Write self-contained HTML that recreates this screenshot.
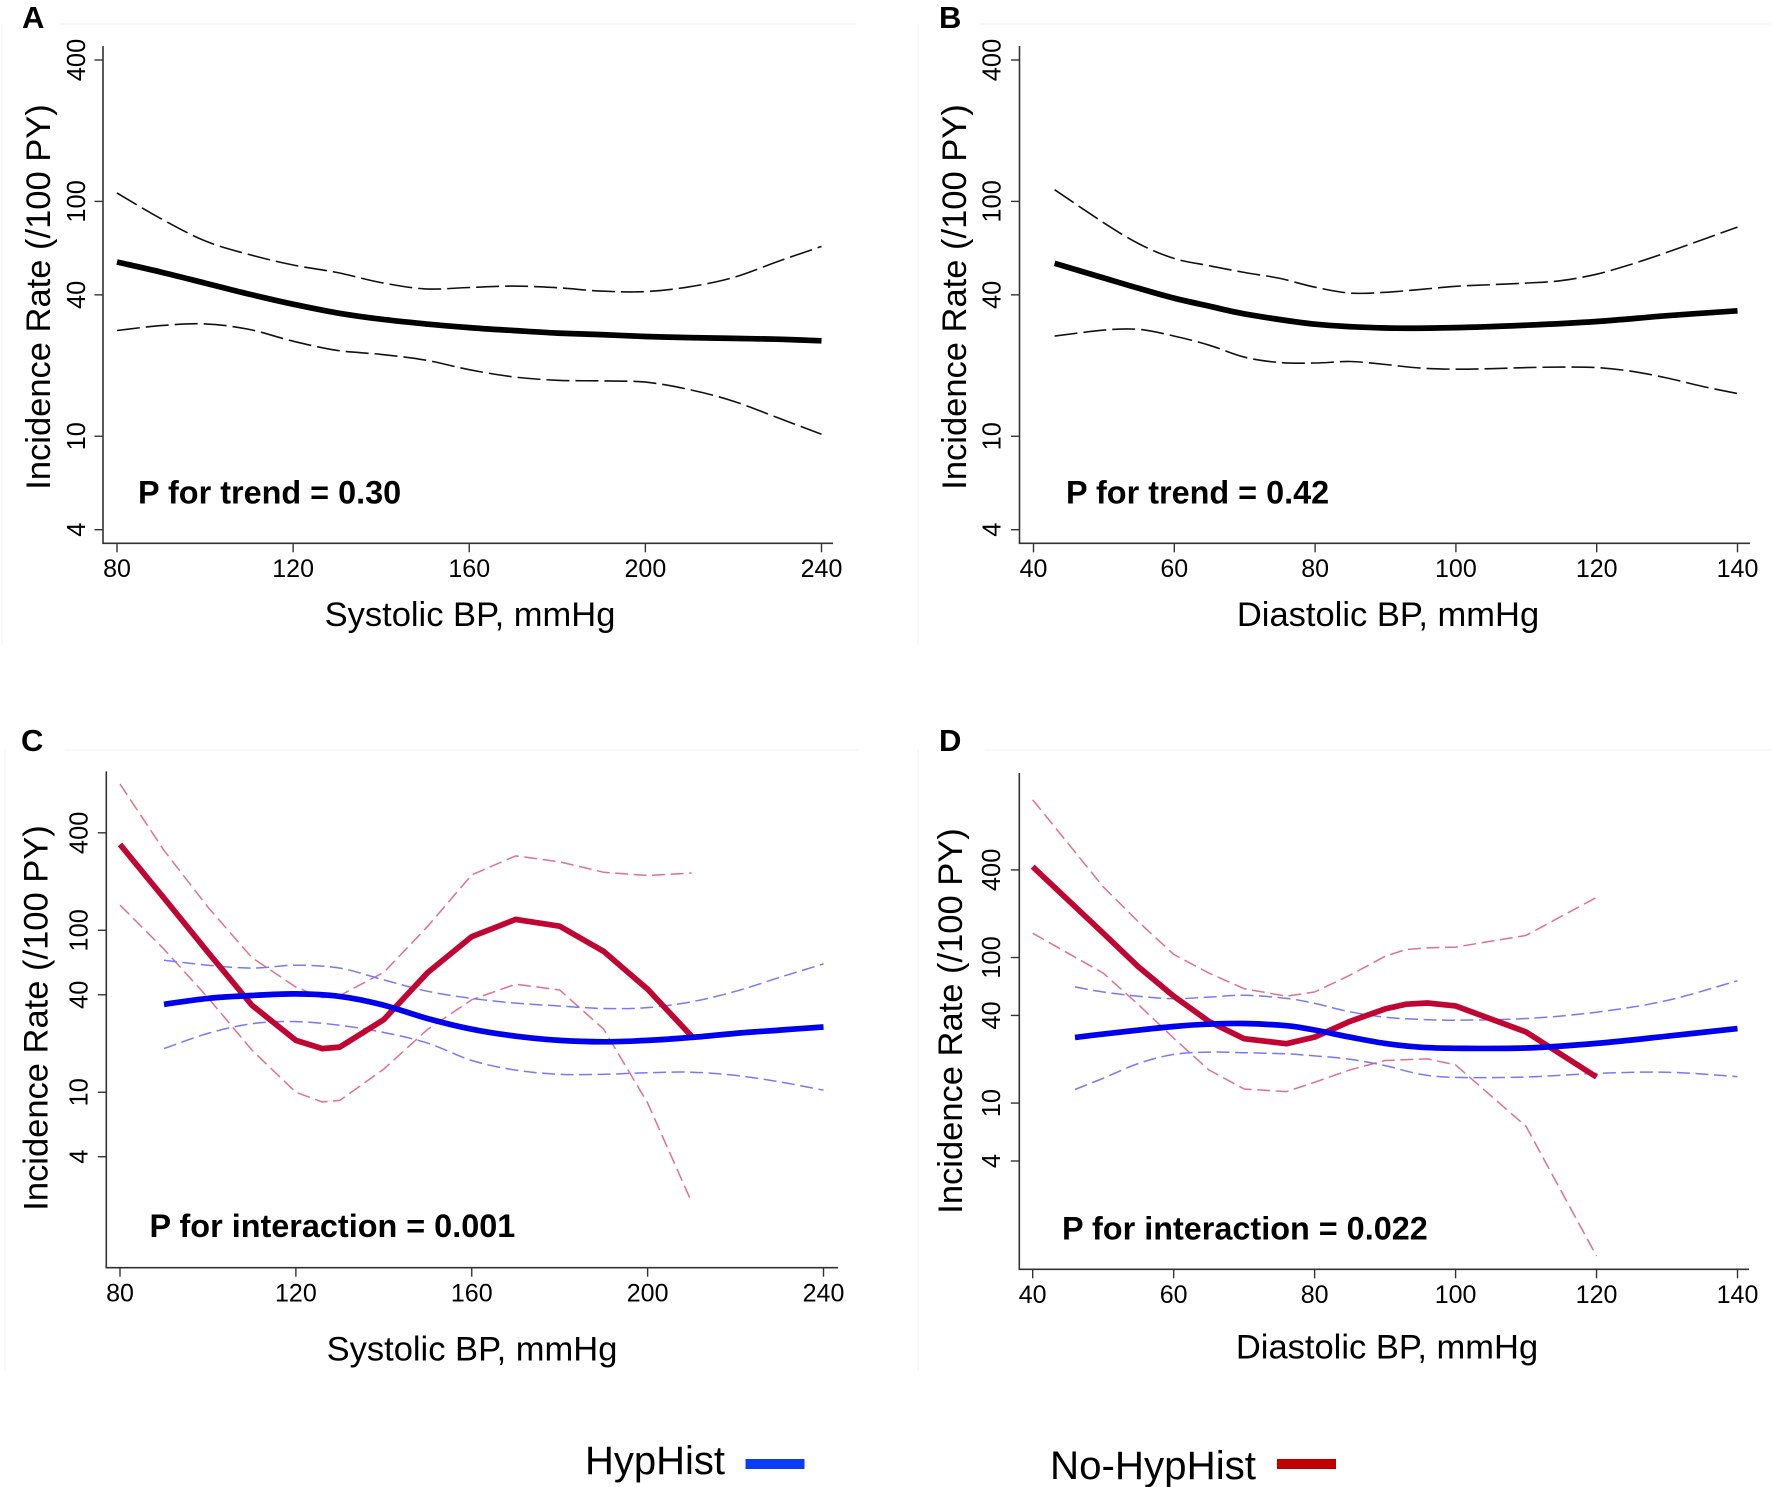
<!DOCTYPE html>
<html lang="en">
<head>
<meta charset="utf-8">
<title>Incidence rate by blood pressure</title>
<style>
html,body{margin:0;padding:0;background:#fff;}
svg{display:block;font-family:"Liberation Sans",Arial,sans-serif;}
</style>
</head>
<body>
<svg id="figure" xmlns="http://www.w3.org/2000/svg" width="1772" height="1487" viewBox="0 0 1772 1487">
  <rect x="0" y="0" width="1772" height="1487" fill="#fff"/>
  <g fill="none" stroke="#f6f6f6" stroke-width="1.5">
    <path d="M2 645V24M60 24H855"/>
    <path d="M918 645V24M980 24H1772"/>
    <path d="M5 1370V750M65 750H858"/>
    <path d="M918 1370V750M985 750H1772"/>
  </g>

  <text x="22" y="28" font-size="31" font-weight="bold">A</text>
  <text x="939" y="28" font-size="31" font-weight="bold">B</text>
  <text x="21" y="751" font-size="31" font-weight="bold">C</text>
  <text x="939" y="751" font-size="31" font-weight="bold">D</text>

  <text transform="translate(50,297) rotate(-90)" text-anchor="middle" font-size="34.5">Incidence Rate (/100 PY)</text>
  <text transform="translate(966,297) rotate(-90)" text-anchor="middle" font-size="34.5">Incidence Rate (/100 PY)</text>
  <text transform="translate(47.5,1018) rotate(-90)" text-anchor="middle" font-size="34.5">Incidence Rate (/100 PY)</text>
  <text transform="translate(962,1021) rotate(-90)" text-anchor="middle" font-size="34.5">Incidence Rate (/100 PY)</text>

  <text x="470" y="626" text-anchor="middle" font-size="34.5">Systolic BP, mmHg</text>
  <text x="1388" y="626" text-anchor="middle" font-size="34.5">Diastolic BP, mmHg</text>
  <text x="472" y="1360.5" text-anchor="middle" font-size="34.5">Systolic BP, mmHg</text>
  <text x="1387" y="1358.5" text-anchor="middle" font-size="34.5">Diastolic BP, mmHg</text>

  <text x="138" y="503.5" font-size="32.4" font-weight="bold">P for trend = 0.30</text>
  <text x="1066" y="503.5" font-size="32.4" font-weight="bold">P for trend = 0.42</text>
  <text x="149.5" y="1237" font-size="32.4" font-weight="bold">P for interaction = 0.001</text>
  <text x="1062" y="1239.5" font-size="32.4" font-weight="bold">P for interaction = 0.022</text>

  <g>
    <text x="585" y="1474" font-size="40">HypHist</text>
    <rect x="745.5" y="1459" width="59" height="10" fill="#0a3cf5"/>
    <text x="1050" y="1479" font-size="40.3">No-HypHist</text>
    <rect x="1277" y="1459" width="59" height="10" fill="#c00000"/>
  </g>
</svg>

<script>
const sysTicks = [80, 120, 160, 200, 240];
const diaTicks = [40, 60, 80, 100, 120, 140];
const rateTicks = [400, 100, 40, 10, 4];

const aX = [80, 90, 100, 110, 120, 130, 140, 150, 160, 170, 180, 190, 200, 210, 220, 230, 240];
const aMid = [55.2, 50, 44.9, 40.3, 36.5, 33.5, 31.5, 30.1, 29, 28.2, 27.5, 27.1, 26.6, 26.3, 26.1, 25.9, 25.5];
const aUpper = [108.6, 84.4, 67.9, 59.4, 53.6, 49.8, 45.1, 42.4, 43, 43.6, 42.9, 41.5, 41.3, 43.3, 47.4, 55.4, 64.3];
const aLower = [28.2, 29.6, 30.1, 28.5, 25.4, 23.2, 22.3, 21.1, 19.2, 17.9, 17.3, 17.2, 17, 15.8, 14.1, 12, 10.2];

const bMidX = [43, 50, 55, 60, 65, 70, 80, 90, 100, 110, 120, 130, 140];
const bMid = [54.5, 47.2, 42.6, 38.7, 35.8, 33.2, 30, 28.9, 29, 29.7, 30.8, 32.6, 34.2];
const bBandX = [43, 50, 55, 60, 65, 70, 75, 80, 85, 90, 95, 100, 105, 110, 115, 120, 125, 130, 135, 140];
const bUpper = [112.2, 81, 65.9, 57.1, 53.2, 49.8, 47, 43.1, 40.7, 41, 42.2, 43.5, 44.2, 44.9, 46, 49, 54.1, 60.7, 68.7, 77.7];
const bLower = [26.7, 28.3, 28.5, 26.7, 24.4, 21.7, 20.6, 20.5, 20.8, 20.2, 19.5, 19.3, 19.4, 19.6, 19.7, 19.6, 18.9, 17.7, 16.3, 15.2];

const cRedX = [80, 90, 100, 110, 120, 126, 130, 140, 150, 160, 170, 180, 190, 200, 210];
const cRedMid = [339, 158, 73.3, 34.5, 20.9, 18.6, 19, 28.1, 55, 91.4, 116.8, 106, 74.1, 43.3, 22.2];
const cRedUpper = [801, 311.5, 139, 67.8, 44.6, 38.4, 39.6, 55, 106, 220, 288, 265, 228, 218, 226];
const cRedLower = [143, 76.4, 38.4, 18.2, 10, 8.7, 8.9, 13.9, 24.5, 37.3, 46.5, 42.8, 24.5, 8.6, 2.1];
const cBlueX = [90, 100, 110, 120, 130, 140, 150, 160, 170, 180, 190, 200, 210, 220, 230, 240];
const cBlueMid = [34.9, 38, 39.6, 40.5, 39.1, 34.5, 28.5, 24.5, 22.2, 20.9, 20.5, 20.9, 21.8, 23.1, 24.2, 25.3];
const cBlueUpper = [65.4, 60.9, 58.4, 60.9, 58.4, 49.4, 42, 38, 35.5, 34.1, 32.9, 33.3, 36.2, 42, 51.2, 62];
const cBlueLower = [18.6, 23.1, 26.5, 27.3, 25.9, 23.4, 20.1, 15.7, 13.7, 12.9, 12.9, 13.2, 13.3, 12.7, 11.6, 10.3];

const dRedMidX = [40, 50, 55, 60, 65, 70, 76, 80, 85, 90, 93, 96, 100, 110, 120];
const dRedMid = [421, 147, 86.4, 54.2, 36.4, 27.7, 25.6, 28.4, 36.4, 44.4, 47.8, 48.7, 46.5, 30.8, 15.1];
const dRedUpper = [1213, 306, 176, 105, 78.2, 61.1, 54.2, 58, 75.6, 102, 113.5, 116.5, 118, 142, 259];
const dRedLowerX = [40, 50, 55, 60, 65, 70, 76, 80, 85, 90, 96, 100, 110, 120];
const dRedLower = [147, 78.2, 47.5, 27.9, 16.9, 12.5, 12, 13.9, 16.9, 19.6, 20.1, 18.3, 6.9, 0.89];
const dBlueMidX = [46, 50, 60, 65, 70, 76, 80, 85, 90, 95, 100, 110, 120, 130, 140];
const dBlueMid = [28.2, 29.8, 33.6, 34.9, 35.2, 34, 31.8, 28.4, 25.7, 24.2, 23.8, 23.9, 25.7, 28.8, 32.5];
const dBlueBandX = [46, 50, 55, 60, 65, 70, 76, 80, 85, 90, 95, 100, 110, 120, 130, 140];
const dBlueUpper = [62.8, 58, 54.2, 52.1, 53.5, 55, 52.4, 48.4, 42.4, 38.9, 37.6, 37.1, 38.1, 42.1, 50.7, 69.3];
const dBlueLower = [12.4, 14.8, 18.7, 21.6, 22.4, 22.2, 21.8, 21.1, 20, 18.1, 15.8, 15, 15.1, 16, 16.3, 15.2];

const SVG_NS = 'http://www.w3.org/2000/svg';
const figure = document.getElementById('figure');

function makeAxes(frame) {
  const x = v => frame.x0px + (v - frame.x0) * (frame.x1px - frame.x0px) / (frame.x1 - frame.x0);
  const yTop = Math.log10(400);
  const yBottom = Math.log10(4);
  const y = v => frame.y400 + (yTop - Math.log10(v)) * (frame.y4 - frame.y400) / (yTop - yBottom);
  return { x, y };
}

function drawAxes(id, frame, xTicks, yTicks) {
  const axes = makeAxes(frame);
  const group = document.createElementNS(SVG_NS, 'g');
  
  
  figure.appendChild(group);

  const spine = document.createElementNS(SVG_NS, 'path');
  
  
  spine.setAttribute('d', 'M' + frame.left + ' ' + frame.top + 'V' + frame.bottom + 'H' + frame.right);
  spine.setAttribute('fill', 'none');
  spine.setAttribute('stroke', '#333');
  spine.setAttribute('stroke-width', '1.6');
  group.appendChild(spine);

  xTicks.forEach(t => {
    const tick = document.createElementNS(SVG_NS, 'line');
    
    
    tick.setAttribute('x1', axes.x(t));
    tick.setAttribute('x2', axes.x(t));
    tick.setAttribute('y1', frame.bottom);
    tick.setAttribute('y2', frame.bottom + 9);
    tick.setAttribute('stroke', '#333');
    tick.setAttribute('stroke-width', '1.4');
    group.appendChild(tick);

    const label = document.createElementNS(SVG_NS, 'text');
    
    
    label.setAttribute('x', axes.x(t));
    label.setAttribute('y', frame.xLabelY);
    label.setAttribute('text-anchor', 'middle');
    label.setAttribute('font-size', '25');
    label.textContent = String(t);
    group.appendChild(label);
  });

  yTicks.forEach(t => {
    const tick = document.createElementNS(SVG_NS, 'line');
    
    
    tick.setAttribute('x1', frame.left - 8.5);
    tick.setAttribute('x2', frame.left);
    tick.setAttribute('y1', axes.y(t));
    tick.setAttribute('y2', axes.y(t));
    tick.setAttribute('stroke', '#333');
    tick.setAttribute('stroke-width', '1.4');
    group.appendChild(tick);

    const label = document.createElementNS(SVG_NS, 'text');
    
    
    label.setAttribute('transform', 'translate(' + frame.yLabelX + ',' + axes.y(t) + ') rotate(-90)');
    label.setAttribute('text-anchor', 'middle');
    label.setAttribute('font-size', '25.5');
    label.textContent = String(t);
    group.appendChild(label);
  });
  return axes;
}

function pathThrough(axes, xs, ys, smooth) {
  const pts = xs.map((v, i) => [axes.x(v), axes.y(ys[i])]);
  let d = 'M' + pts[0][0].toFixed(1) + ' ' + pts[0][1].toFixed(1);
  for (let i = 1; i < pts.length; i++) {
    if (!smooth) {
      d += 'L' + pts[i][0].toFixed(1) + ' ' + pts[i][1].toFixed(1);
      continue;
    }
    const p0 = pts[Math.max(i - 2, 0)];
    const p1 = pts[i - 1];
    const p2 = pts[i];
    const p3 = pts[Math.min(i + 1, pts.length - 1)];
    const c1x = p1[0] + (p2[0] - p0[0]) / 6;
    const c1y = p1[1] + (p2[1] - p0[1]) / 6;
    const c2x = p2[0] - (p3[0] - p1[0]) / 6;
    const c2y = p2[1] - (p3[1] - p1[1]) / 6;
    d += 'C' + c1x.toFixed(1) + ' ' + c1y.toFixed(1) + ' ' + c2x.toFixed(1) + ' ' + c2y.toFixed(1) + ' ' + p2[0].toFixed(1) + ' ' + p2[1].toFixed(1);
  }
  return d;
}

function drawLine(name, axes, xs, ys, color, width, dash, smooth) {
  const line = document.createElementNS(SVG_NS, 'path');
  
  
  line.setAttribute('d', pathThrough(axes, xs, ys, smooth));
  line.setAttribute('fill', 'none');
  line.setAttribute('stroke', color);
  line.setAttribute('stroke-width', width);
  line.setAttribute('stroke-linejoin', 'round');
  if (dash) line.setAttribute('stroke-dasharray', dash);
  figure.appendChild(line);
}

const BLACK_DASH = '23 6';
const COLOR_DASH = '13 5.5';
const RED = '#c10532';
const RED_BAND = '#e2708f';
const BLUE = '#0000ee';
const BLUE_BAND = '#7777ff';

const axesA = drawAxes('a', { x0: 80, x1: 240, x0px: 117, x1px: 821.5, y400: 60, y4: 529.7, left: 103, right: 833, top: 46, bottom: 543.3, xLabelY: 577, yLabelX: 85 }, sysTicks, rateTicks);
drawLine('panel-a-upper-ci', axesA, aX, aUpper, '#111', 1.6, BLACK_DASH, true);
drawLine('panel-a-lower-ci', axesA, aX, aLower, '#111', 1.6, BLACK_DASH, true);
drawLine('panel-a-incidence-line', axesA, aX, aMid, '#000', 5.7, null, true);

const axesB = drawAxes('b', { x0: 40, x1: 140, x0px: 1033.5, x1px: 1737.5, y400: 60, y4: 529.7, left: 1019.5, right: 1750, top: 46, bottom: 543.3, xLabelY: 577, yLabelX: 1000.5 }, diaTicks, rateTicks);
drawLine('panel-b-upper-ci', axesB, bBandX, bUpper, '#111', 1.6, BLACK_DASH, true);
drawLine('panel-b-lower-ci', axesB, bBandX, bLower, '#111', 1.6, BLACK_DASH, true);
drawLine('panel-b-incidence-line', axesB, bMidX, bMid, '#000', 5.7, null, true);

const axesC = drawAxes('c', { x0: 80, x1: 240, x0px: 120, x1px: 823.5, y400: 832.8, y4: 1156.7, left: 106.3, right: 838, top: 771.4, bottom: 1267.7, xLabelY: 1301.5, yLabelX: 87.7 }, sysTicks, rateTicks);
drawLine('panel-c-no-hyphist-upper-ci', axesC, cRedX, cRedUpper, RED_BAND, 1.5, COLOR_DASH);
drawLine('panel-c-no-hyphist-lower-ci', axesC, cRedX, cRedLower, RED_BAND, 1.5, COLOR_DASH);
drawLine('panel-c-hyphist-upper-ci', axesC, cBlueX, cBlueUpper, BLUE_BAND, 1.5, COLOR_DASH, true);
drawLine('panel-c-hyphist-lower-ci', axesC, cBlueX, cBlueLower, BLUE_BAND, 1.5, COLOR_DASH, true);
drawLine('panel-c-no-hyphist-line', axesC, cRedX, cRedMid, RED, 5.7);
drawLine('panel-c-hyphist-line', axesC, cBlueX, cBlueMid, BLUE, 5.7, null, true);

const axesD = drawAxes('d', { x0: 40, x1: 140, x0px: 1032.7, x1px: 1737.5, y400: 869.9, y4: 1161, left: 1019.3, right: 1749, top: 773, bottom: 1269.3, xLabelY: 1303, yLabelX: 1000 }, diaTicks, rateTicks);
drawLine('panel-d-no-hyphist-upper-ci', axesD, dRedMidX, dRedUpper, RED_BAND, 1.5, COLOR_DASH);
drawLine('panel-d-no-hyphist-lower-ci', axesD, dRedLowerX, dRedLower, RED_BAND, 1.5, COLOR_DASH);
drawLine('panel-d-hyphist-upper-ci', axesD, dBlueBandX, dBlueUpper, BLUE_BAND, 1.5, COLOR_DASH, true);
drawLine('panel-d-hyphist-lower-ci', axesD, dBlueBandX, dBlueLower, BLUE_BAND, 1.5, COLOR_DASH, true);
drawLine('panel-d-no-hyphist-line', axesD, dRedMidX, dRedMid, RED, 5.7);
drawLine('panel-d-hyphist-line', axesD, dBlueMidX, dBlueMid, BLUE, 5.7, null, true);
</script>
</body>
</html>
